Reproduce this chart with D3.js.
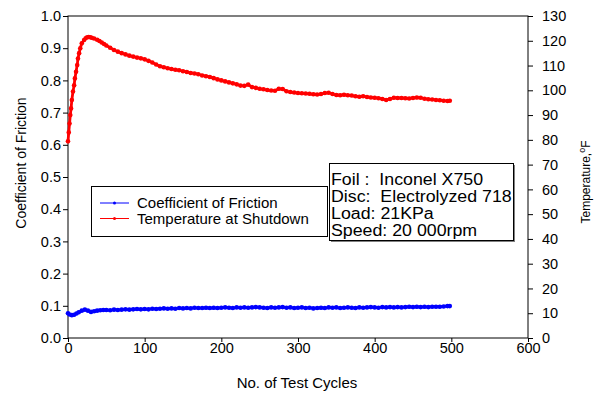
<!DOCTYPE html>
<html>
<head>
<meta charset="utf-8">
<script src="https://cdn.jsdelivr.net/npm/d3@7"></script>
<style>
  html, body { margin: 0; padding: 0; background: #fff; }
  svg { display: block; font-family: "Liberation Sans", Arial, sans-serif; }
</style>
</head>
<body>
<svg id="chart" width="600" height="395"></svg>
<script>
// ---- data ----
const xTicks = [0, 100, 200, 300, 400, 500, 600];
const yLeftTicks = [0, 0.1, 0.2, 0.3, 0.4, 0.5, 0.6, 0.7, 0.8, 0.9, 1.0];
const yRightTicks = [0, 10, 20, 30, 40, 50, 60, 70, 80, 90, 100, 110, 120, 130];

const tempCycles = [0,1,2,3,4,5,6.5,8,9,10.5,12,13,14.5,16,18,21,23,25,27,29,31,34,38,41,44,47,50,55,
  60,65,70,75,80,85,90,95,100,105,110,115,120,125,130,135,140,145,150,155,160,165,170,175,180,185,190,195,
  200,205,210,215,220,225,230,235,240,245,250,255,260,265,270,275,280,285,290,295,300,305,310,315,320,325,
  330,335,340,345,350,355,360,365,370,375,380,385,390,395,400,405,410,415,420,425,430,435,440,445,450,455,
  460,465,470,475,480,485,490,495,498];
const tempValues = [79.4,83.0,86.6,90.0,92.7,96.1,99.5,102.0,104.8,107.5,110.2,112.8,115.0,117.0,119.0,120.3,121.0,121.4,121.5,121.4,121.2,120.9,120.4,119.9,119.3,118.7,118.1,117.2,
  116.3,115.6,115.0,114.5,114.0,113.6,113.2,112.9,112.5,111.9,111.2,110.4,109.7,109.3,108.9,108.6,108.3,108.1,107.7,107.4,107.0,106.8,106.5,106.0,105.7,105.4,104.9,104.4,
  104.0,103.6,103.2,102.8,102.4,101.9,101.8,102.3,101.3,101.0,100.6,100.4,100.1,99.9,99.8,100.6,100.5,99.6,99.3,99.1,98.9,98.8,98.7,98.6,98.4,98.3,
  98.5,98.9,99.0,98.5,98.1,98.0,98.2,98.0,97.9,97.6,97.4,97.6,97.3,97.1,97.0,96.8,96.5,96.1,96.5,97.0,96.9,96.9,96.8,96.7,96.9,97.1,
  97.0,96.6,96.4,96.3,96.1,96.0,95.8,95.7,95.8];

const cofCycles = [0,2,5,8,11,14,18,22,26,30,34,38,42,46,50,55,60,65,70,75,80,85,90,95,100,105,110,115,120,125,
  130,135,140,145,150,155,160,165,170,175,180,185,190,195,200,205,210,215,220,225,230,235,240,245,250,255,
  260,265,270,275,280,285,290,295,300,305,310,315,320,325,330,335,340,345,350,355,360,365,370,375,380,385,
  390,395,400,405,410,415,420,425,430,435,440,445,450,455,460,465,470,475,480,485,490,495,498];
const cofValues = [0.077,0.073,0.071,0.072,0.076,0.080,0.085,0.088,0.085,0.081,0.083,0.085,0.086,0.087,0.087,0.086,0.088,0.087,0.088,0.089,0.088,0.089,0.090,0.089,0.090,0.089,0.091,0.090,0.091,0.092,
  0.091,0.092,0.091,0.093,0.092,0.093,0.092,0.094,0.093,0.093,0.094,0.093,0.094,0.093,0.094,0.095,0.094,0.093,0.095,0.094,0.095,0.094,0.095,0.096,0.095,0.094,
  0.093,0.095,0.094,0.095,0.096,0.094,0.095,0.093,0.094,0.095,0.093,0.094,0.092,0.093,0.094,0.093,0.095,0.094,0.095,0.093,0.094,0.095,0.094,0.093,0.095,0.094,
  0.095,0.096,0.095,0.094,0.096,0.095,0.096,0.095,0.096,0.095,0.096,0.097,0.096,0.097,0.096,0.097,0.096,0.097,0.097,0.097,0.098,0.099,0.099];

const legendLabels = ["Coefficient of Friction", "Temperature at Shutdown"];
const noteLines = ["Foil :  Inconel X750", "Disc:  Electrolyzed 718", "Load: 21KPa", "Speed: 20 000rpm"];

// ---- layout ----
const L = 68, R = 528, T = 16, B = 338;
const svg = d3.select("#chart");
const x = d3.scaleLinear().domain([0, 600]).range([L, R]);
const yL = d3.scaleLinear().domain([0, 1]).range([B, T]);
const yR = d3.scaleLinear().domain([0, 130]).range([B, T]);

// frame
svg.append("rect").attr("x", L).attr("y", T).attr("width", R - L).attr("height", B - T)
  .attr("fill", "none").attr("stroke", "#000").attr("stroke-width", 1);

function styleAxis(g) {
  g.select(".domain").remove();
  g.selectAll("line").attr("stroke", "#000");
  g.selectAll("text").attr("fill", "#000").style("font-size", "14.5px")
    .style("font-family", '"Liberation Sans", Arial, sans-serif');
}

svg.append("g").attr("transform", `translate(0,${B})`)
  .call(d3.axisBottom(x).tickValues(xTicks).tickFormat(d3.format("d")).tickSize(4).tickPadding(1))
  .call(styleAxis);
svg.append("g").attr("transform", `translate(${L},0)`)
  .call(d3.axisLeft(yL).tickValues(yLeftTicks).tickFormat(d3.format(".1f")).tickSize(5).tickPadding(2))
  .call(styleAxis);
svg.append("g").attr("transform", `translate(${R},0)`)
  .call(d3.axisRight(yR).tickValues(yRightTicks).tickFormat(d3.format("d")).tickSize(5).tickPadding(9))
  .call(styleAxis);

// series
const tempData = tempCycles.map((c, i) => [c, tempValues[i]]);
const cofData = cofCycles.map((c, i) => [c, cofValues[i]]);

const lineT = d3.line().x(d => x(d[0])).y(d => yR(d[1]));
const lineC = d3.line().x(d => x(d[0])).y(d => yL(d[1]));

svg.append("path").datum(tempData).attr("d", lineT).attr("fill", "none")
  .attr("stroke", "#ff0000").attr("stroke-width", 2.8).attr("stroke-linejoin", "round");
svg.append("g").selectAll("circle").data(tempData).join("circle")
  .attr("cx", d => x(d[0])).attr("cy", d => yR(d[1])).attr("r", 2.3).attr("fill", "#ff0000");

svg.append("path").datum(cofData).attr("d", lineC).attr("fill", "none")
  .attr("stroke", "#0000ff").attr("stroke-width", 2.8).attr("stroke-linejoin", "round");
svg.append("g").selectAll("circle").data(cofData).join("circle")
  .attr("cx", d => x(d[0])).attr("cy", d => yL(d[1])).attr("r", 2.3).attr("fill", "#0000ff");

// legend
const lg = svg.append("g");
lg.append("rect").attr("x", 91.5).attr("y", 186.5).attr("width", 236).attr("height", 50)
  .attr("fill", "#fff").attr("stroke", "#000").attr("stroke-width", 1);
const legColors = ["#0000ff", "#ff0000"];
legendLabels.forEach((t, i) => {
  const yy = 203 + i * 15.5;
  lg.append("line").attr("x1", 100).attr("x2", 129).attr("y1", yy).attr("y2", yy)
    .attr("stroke", legColors[i]).attr("stroke-width", 1);
  lg.append("circle").attr("cx", 114.5).attr("cy", yy).attr("r", 1.5).attr("fill", legColors[i]);
  lg.append("text").attr("x", 137).attr("y", yy + 5).text(t)
    .style("font-size", "15px").attr("fill", "#000");
});

// note box
const nb = svg.append("g");
nb.append("rect").attr("x", 331).attr("y", 165).attr("width", 184).attr("height", 77)
  .attr("fill", "#808080");
nb.append("rect").attr("x", 329.5).attr("y", 163.5).attr("width", 184).attr("height", 77)
  .attr("fill", "#fff").attr("stroke", "#000").attr("stroke-width", 1);
noteLines.forEach((t, i) => {
  const tx = nb.append("text").attr("x", 331).attr("y", 185 + i * 17).text(t)
    .attr("xml:space", "preserve").style("white-space", "pre")
    .style("font-size", "16px").attr("fill", "#000");
  const w = tx.node().getComputedTextLength();
  tx.attr("textLength", w * 1.11).attr("lengthAdjust", "spacingAndGlyphs");
});

// axis titles
svg.append("text").attr("transform", "translate(26,163) rotate(-90)")
  .attr("text-anchor", "middle").style("font-size", "14px").attr("fill", "#000")
  .text("Coefficient of Friction");
svg.append("text").attr("x", 297).attr("y", 388).attr("text-anchor", "middle")
  .style("font-size", "15px").attr("fill", "#000").text("No. of Test Cycles");
const rt = svg.append("text").attr("transform", "translate(590,182) rotate(-90)")
  .attr("text-anchor", "middle").style("font-size", "12px").attr("fill", "#000");
rt.append("tspan").text("Temperature,");
rt.append("tspan").attr("dy", -5).style("font-size", "9px").text("o");
rt.append("tspan").attr("dy", 5).text("F");
</script>
</body>
</html>
